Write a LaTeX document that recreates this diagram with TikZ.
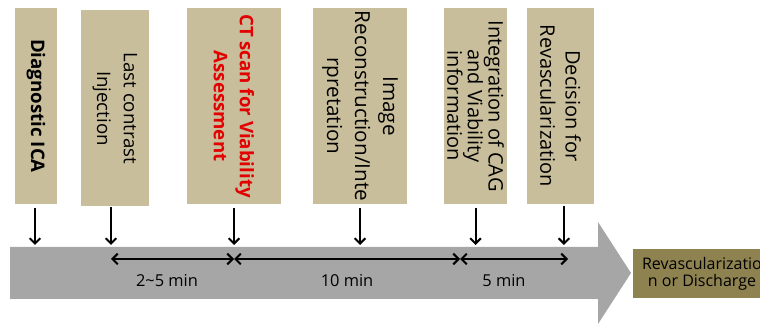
\documentclass[tikz,border=0pt]{standalone}
\usepackage{fontspec}
\setmainfont{Open Sans}
\usetikzlibrary{arrows.meta}

\definecolor{boxtan}{HTML}{C8BE9B}
\definecolor{olivebox}{HTML}{8E8250}
\definecolor{bandgray}{HTML}{A6A6A6}
\definecolor{ctred}{HTML}{E30000}

\tikzset{
  stagebox/.style={fill=boxtan, rotate=-90, align=center, inner sep=1pt,
    minimum width=147pt, font=\fontsize{14}{20}\selectfont},
  tick/.style={-{Straight Barb[length=4pt,width=8pt]}, line width=1.5pt},
  span/.style={{Straight Barb[length=4pt,width=8pt]}-{Straight Barb[length=4pt,width=8pt]}, line width=1.5pt},
  timelabel/.style={font=\fontsize{12.3}{14}\selectfont, inner sep=0pt}
}

\begin{document}
\begin{tikzpicture}[x=0.75pt, y=-0.75pt]
  \useasboundingbox (0,0) rectangle (760,327);
  % grey time band
  \fill[bandgray] (10,247) -- (598,247) -- (598,222) -- (631,273) -- (598,324) -- (598,299) -- (10,299) -- cycle;
  \coordinate (bandtop) at (0,245);

  % stages
  \node[stagebox, minimum height=31.5pt] (b1) at (36,106) {\bfseries Diagnostic ICA};
  \node[stagebox, minimum height=51pt] (b2) at (115,108.5) {Last contrast\\Injection};
  \node[stagebox, minimum height=70.5pt, text=ctred, font=\fontsize{14}{19.5}\selectfont] (b3) at (234,106) {\bfseries CT scan for Viability\\\bfseries Assessment};
  \node[stagebox, minimum height=70.5pt, font=\fontsize{15.5}{21}\selectfont] (b4) at (360,106) {Image\\Reconstruction/Inte\\rpretation};
  \node[stagebox, minimum height=47.25pt, font=\fontsize{15}{15.5}\selectfont] (b5) at (475.5,106) {Integration of CAG\\and Viability\\information};
  \node[stagebox, minimum height=50.25pt, font=\fontsize{15}{19}\selectfont] (b6) at (560.5,106) {Decision for\\Revascularization};

  \node[fill=olivebox, minimum width=103.5pt, minimum height=36.75pt, inner sep=0pt,
    align=center, font=\fontsize{12}{12.75}\selectfont] (end) at (702,273.5) {Revascularizatio\\n or Discharge};

  % arrows into the band
  \draw[tick] ([xshift=-0.75pt, yshift=-3pt]b1.east) -- ([xshift=-0.75pt]b1.east |- bandtop);
  \draw[tick] ([xshift=-3pt, yshift=-0pt]b2.east) -- ([xshift=-3pt]b2.east |- bandtop);
  \draw[tick] ([yshift=-3pt]b3.east) -- (b3.east |- bandtop);
  \draw[tick] ([yshift=-3pt]b4.east) -- (b4.east |- bandtop);
  \draw[tick] ([yshift=-3pt]b5.east) -- (b5.east |- bandtop);
  \draw[tick] ([xshift=2.6pt, yshift=-1pt]b6.east) -- ([xshift=2.6pt]b6.east |- bandtop);

  % durations
  \coordinate (s1) at (111,259);
  \coordinate (s2) at (234,259);
  \coordinate (s3) at (460,259);
  \coordinate (s4) at (568,259);
  \draw[span] (s1) -- (s2);
  \draw[span] (s2) -- (s3);
  \draw[span] (s3) -- (s4);
  \node[timelabel] (d1) at (167,281) {2\textasciitilde 5 min};
  \node[timelabel] (d2) at (347,281) {10 min};
  \node[timelabel] (d3) at (504,281) {5 min};
\end{tikzpicture}
\end{document}
